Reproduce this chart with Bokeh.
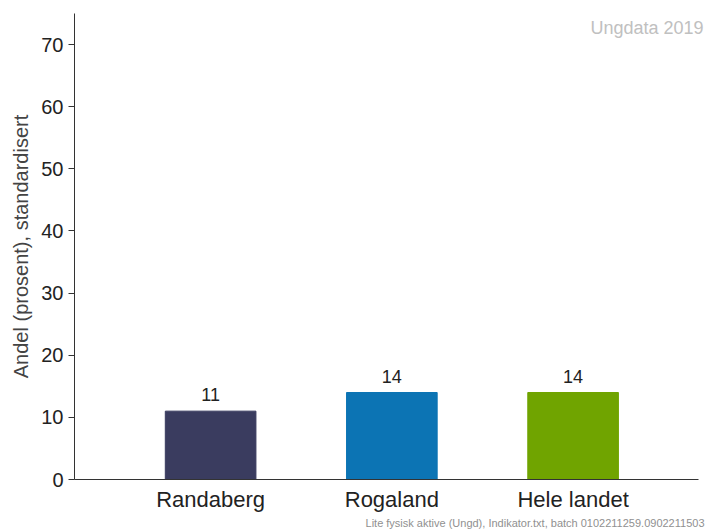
from bokeh.plotting import figure
from bokeh.models import ColumnDataSource, Range1d, FixedTicker, LabelSet, Label, Title
from bokeh.core.properties import value
from bokeh.embed import file_html
from bokeh.resources import INLINE

categories = ["Randaberg", "Rogaland", "Hele landet"]
values = [11, 14, 14]
colors = ["#3a3c5f", "#0c74b4", "#70a400"]
y_ticks = [0, 10, 20, 30, 40, 50, 60, 70]
positions = [1, 2, 3]

src = ColumnDataSource(dict(x=positions, top=values, color=colors,
                            label=[str(v) for v in values]))

FONT = "Liberation Sans"

p = figure(width=705, height=529, output_backend="svg", toolbar_location=None,
           x_range=Range1d(0.249, 3.725), y_range=Range1d(0, 75),
           min_border_left=74, min_border_right=1, min_border_top=13,
           min_border_bottom=50)
p.outline_line_color = None
p.grid.visible = False
p.background_fill_color = "white"

p.vbar(x="x", top="top", width=0.5, color="color", source=src)

labels = LabelSet(x="x", y="top", text="label", source=src, text_align="center",
                  text_baseline="bottom", y_offset=10, text_font_size="18px",
                  text_font=value(FONT), text_color="#222222")
p.add_layout(labels)

p.yaxis.ticker = FixedTicker(ticks=y_ticks)
p.yaxis.major_label_text_font_size = "20px"
p.yaxis.major_label_text_font = FONT
p.yaxis.major_label_text_color = "#222222"
p.yaxis.major_tick_out = 6
p.yaxis.major_tick_in = 0
p.yaxis.minor_tick_out = 0
p.yaxis.minor_tick_in = 0
p.yaxis.axis_line_color = "#333333"
p.yaxis.major_tick_line_color = "#333333"
p.yaxis.axis_label = "Andel (prosent), standardisert"
p.yaxis.axis_label_text_font = FONT
p.yaxis.axis_label_text_font_style = "normal"
p.yaxis.axis_label_text_font_size = "20px"
p.yaxis.axis_label_standoff = 6
p.yaxis.major_label_standoff = 5

p.xaxis.ticker = FixedTicker(ticks=positions)
p.xaxis.bounds = (0.249, 3.69)
p.xaxis.major_label_overrides = {pos: c for pos, c in zip(positions, categories)}
p.xaxis.major_label_text_font_size = "22px"
p.xaxis.major_label_text_font = FONT
p.xaxis.major_label_text_color = "#222222"
p.xaxis.major_tick_out = 0
p.xaxis.major_tick_in = 0
p.xaxis.minor_tick_out = 0
p.xaxis.minor_tick_in = 0
p.xaxis.axis_line_color = "#333333"
p.xaxis.major_label_standoff = 7

p.add_layout(Label(x=3.72, y=72.7, text="Ungdata 2019", text_align="right",
                   text_baseline="middle", text_font=FONT, text_font_size="18px",
                   text_color="#c0c0c0"))
p.add_layout(Title(text="Lite fysisk aktive (Ungd), Indikator.txt, batch 0102211259.0902211503",
                   align="right", text_font=FONT, text_font_size="11px",
                   text_font_style="normal", text_color="#909090",
                   standoff=0, offset=0), "below")

open("out.html", "w").write(file_html(p, INLINE))
